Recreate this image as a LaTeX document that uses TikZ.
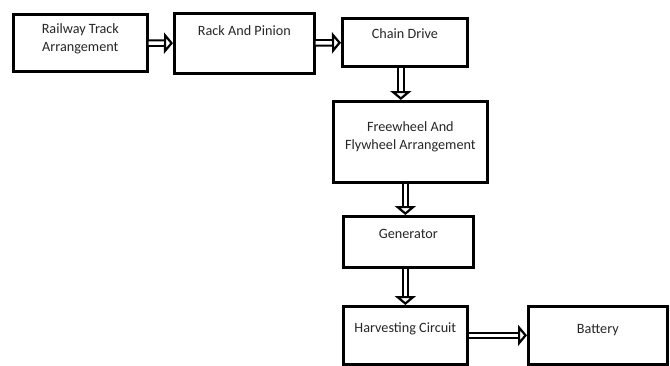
\documentclass[tikz,border=0pt]{standalone}
\usepackage{fontspec}
\setmainfont{Carlito}
\usetikzlibrary{arrows.meta,decorations.markings}
\tikzset{%
  % Specifications for style of nodes:
     block/.style = {rectangle, draw=black, line width=2.7pt, inner sep=0pt,
                     anchor=north west, align=center, text=black!85,
                     font=\fontsize{14.2}{18}\selectfont},
  % double arrows between blocks, open head put on by hand
      flow/.style = {double, double distance=3.4pt, line width=2.1pt, shorten >=8pt,
                     postaction={decorate, decoration={markings,
                       mark=at position 1 with {\pgfsetinnerlinewidth{0pt}%
                         \arrow[line width=2.2pt]{Triangle[open,fill=white,length=9pt,width=21pt]}}}}},
}

\begin{document}
\begin{tikzpicture}[x=1pt, y=-1pt]
  \useasboundingbox (0,0) rectangle (670,365);
  % Specification of nodes (position, etc.)
  \node (railway)    [block, minimum width=134pt, text height=37pt, text depth=20pt] at (12,13)   {Railway Track\\Arrangement};
  \node (rack)       [block, minimum width=140pt, text height=22pt, text depth=38pt] at (173,12)  {Rack And Pinion};
  \node (chain)      [block, minimum width=125pt, text height=20pt, text depth=28pt] at (341,17)  {Chain Drive};
  \node (freewheel)  [block, minimum width=154pt, text height=48pt, text depth=33pt] at (332,100) {Freewheel And\\Flywheel Arrangement};
  \node (generator)  [block, minimum width=130pt, text height=22pt, text depth=29pt] at (342,215) {Generator};
  \node (harvesting) [block, minimum width=124pt, text height=26pt, text depth=32pt] at (342,305) {Harvesting Circuit};
  \node (battery)    [block, minimum width=139pt, text height=27pt, text depth=31pt] at (527,305) {Battery};
  % Specification of lines between nodes specified above
  \draw[flow] (railway) -- (rack);
  \draw[flow] (rack) -- (chain);
  \draw[flow] ([xshift=-4pt]chain.south) -- ([xshift=-4pt]chain.south |- freewheel.north);
  \draw[flow] (freewheel.south -| harvesting.north) -- (generator.north -| harvesting.north);
  \draw[flow] (generator.south -| harvesting.north) -- (harvesting.north);
  \draw[flow] (harvesting) -- (battery);
\end{tikzpicture}
\end{document}
